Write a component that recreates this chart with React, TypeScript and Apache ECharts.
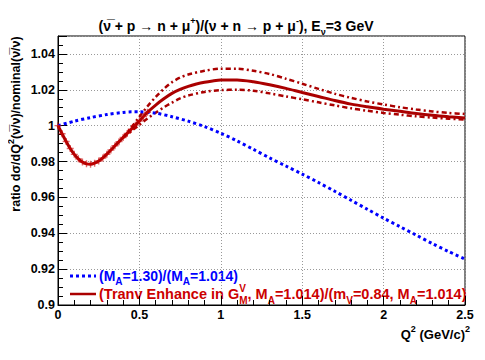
import React, { useEffect, useRef } from "react";
import * as echarts from "echarts";

// Q^2 values (GeV/c)^2 and ratios
const blueQ = [0, 0.1, 0.2, 0.3, 0.4, 0.45, 0.5, 0.6, 0.7, 0.8, 0.9, 1.0, 1.1, 1.2, 1.3, 1.4, 1.5, 1.6, 1.7, 1.8, 1.9, 2.0, 2.1, 2.2, 2.3, 2.4, 2.5];
const blueV = [1.0, 1.0025, 1.0045, 1.0062, 1.0074, 1.0077, 1.0077, 1.007, 1.005, 1.0025, 0.9995, 0.9958, 0.9915, 0.9868, 0.982, 0.9775, 0.973, 0.9683, 0.9634, 0.9584, 0.9534, 0.9484, 0.9437, 0.939, 0.9342, 0.9298, 0.9256];

const redQ = [0, 0.025, 0.05, 0.075, 0.1, 0.125, 0.15, 0.175, 0.2, 0.225, 0.25, 0.275, 0.3, 0.325, 0.35, 0.375, 0.4, 0.425, 0.45, 0.475, 0.5, 0.525, 0.55, 0.6, 0.65, 0.7, 0.75, 0.8, 0.85, 0.9, 0.95, 1.0, 1.1, 1.2, 1.3, 1.4, 1.5, 1.6, 1.7, 1.8, 1.9, 2.0, 2.1, 2.2, 2.3, 2.4, 2.5];
const redV = [1.0, 0.9955, 0.9912, 0.9873, 0.984, 0.9815, 0.9797, 0.9787, 0.9785, 0.9791, 0.9803, 0.982, 0.9841, 0.9864, 0.9888, 0.9911, 0.9934, 0.9957, 0.998, 1.0003, 1.0026, 1.0051, 1.0075, 1.0115, 1.015, 1.018, 1.0202, 1.0219, 1.0232, 1.0242, 1.0249, 1.0254, 1.0255, 1.0245, 1.0228, 1.0208, 1.0185, 1.0163, 1.014, 1.012, 1.0105, 1.0092, 1.008, 1.0068, 1.0058, 1.005, 1.0043];
const crossMaxQ = 0.55;

const bandQ = [0.4, 0.45, 0.5, 0.55, 0.6, 0.65, 0.7, 0.75, 0.8, 0.9, 1.0, 1.1, 1.2, 1.3, 1.4, 1.5, 1.6, 1.7, 1.8, 1.9, 2.0, 2.1, 2.2, 2.3, 2.4, 2.5];
const upperV = [0.9935, 0.999, 1.005, 1.0108, 1.016, 1.0205, 1.0242, 1.0268, 1.0285, 1.0306, 1.0318, 1.0318, 1.0306, 1.0288, 1.0262, 1.0234, 1.0205, 1.0178, 1.0155, 1.0135, 1.0118, 1.0103, 1.009, 1.0079, 1.0071, 1.0065];
const lowerV = [0.9933, 0.997, 1.0005, 1.004, 1.0072, 1.0102, 1.0128, 1.0152, 1.0168, 1.0188, 1.0198, 1.02, 1.0195, 1.018, 1.0163, 1.0147, 1.013, 1.0113, 1.0097, 1.0083, 1.0071, 1.0061, 1.0052, 1.0045, 1.0039, 1.0034];

const xTicks = { min: 0, max: 2.5, interval: 0.5 };
const yTicks = { min: 0.9, max: 1.05, interval: 0.02 };

const FONT = "'Liberation Sans', Arial, Helvetica, sans-serif";
const BLUE = "#0000ff";
const RED = "#aa0000";
const RED_TXT = "#cc0000";

const zip = (q: number[], v: number[]) => q.map((x, i) => [x, v[i]]);

export default function App() {
  const ref = useRef<HTMLDivElement>(null);
  useEffect(() => {
    if (!ref.current) return;
    const chart = echarts.init(ref.current, null, { renderer: "svg" });
    const supS = { fontSize: 9, fontWeight: "bold", fontFamily: FONT, verticalAlign: "top", lineHeight: 10 };
    const subS = { fontSize: 9, fontWeight: "bold", fontFamily: FONT, verticalAlign: "bottom", lineHeight: 10 };
    const option: any = {
      animation: false,
      backgroundColor: "#ffffff",
      grid: { left: 58, right: 20, top: 36, bottom: 55, show: true, borderColor: "#000", borderWidth: 1, containLabel: false },
      xAxis: {
        type: "value",
        min: xTicks.min,
        max: xTicks.max,
        interval: xTicks.interval,
        axisLine: { show: true, onZero: false, lineStyle: { color: "#000", width: 1 } },
        axisTick: { show: true, inside: true, length: 9, lineStyle: { color: "#000" } },
        minorTick: { show: true, splitNumber: 5, length: 5, lineStyle: { color: "#000" } },
        axisLabel: { color: "#000", fontFamily: FONT, fontWeight: "bold", fontSize: 12.5, margin: 3, formatter: (v: number) => String(Math.round(v * 10) / 10) },
        splitLine: { show: true, lineStyle: { color: "#999", type: [1, 2], width: 1 } },
      },
      yAxis: {
        type: "value",
        min: yTicks.min,
        max: yTicks.max,
        interval: yTicks.interval,
        axisLine: { show: true, lineStyle: { color: "#000", width: 1 } },
        axisTick: { show: true, inside: true, length: 9, lineStyle: { color: "#000" } },
        minorTick: { show: true, splitNumber: 4, length: 5, lineStyle: { color: "#000" } },
        axisLabel: {
          color: "#000", fontFamily: FONT, fontWeight: "bold", fontSize: 12.5, margin: 3, showMaxLabel: false,
          formatter: (v: number) => (v > 1.045 ? "" : String(Math.round(v * 100) / 100)),
        },
        splitLine: { show: true, lineStyle: { color: "#999", type: [1, 2], width: 1 } },
      },
      series: [
        {
          type: "line", data: zip(blueQ, blueV), smooth: 0.3, symbol: "none",
          lineStyle: { color: BLUE, width: 3, type: [3, 3], cap: "butt" }, z: 3,
        },
        {
          type: "line", data: zip(bandQ, upperV), smooth: 0.3, symbol: "none",
          lineStyle: { color: RED, width: 2.5, type: [5, 3, 2, 3] }, z: 2,
        },
        {
          type: "line", data: zip(bandQ, lowerV), smooth: 0.3, symbol: "none",
          lineStyle: { color: RED, width: 2.5, type: [5, 3, 2, 3] }, z: 2,
        },
        {
          type: "line", data: zip(redQ, redV), smooth: 0.3, symbol: "none",
          lineStyle: { color: RED, width: 3 }, z: 4,
        },
        {
          type: "scatter", data: zip(redQ, redV).filter((p) => p[0] <= crossMaxQ),
          symbol: "path://M2,0H3V2H5V3H3V5H2V3H0V2H2Z", symbolSize: 7,
          itemStyle: { color: "rgba(204,0,0,0.75)" }, z: 5,
        },
      ],
      graphic: [
        {
          type: "text", x: 236, y: 26,
          style: {
            text: "(ν\u0305 + p → n + μ{sup|+})/(ν + n → p + μ{sup|-}), E{sub|ν}=3 GeV",
            fontFamily: FONT, fontWeight: "bold", fontSize: 14, lineHeight: 20, fill: "#000",
            align: "center", verticalAlign: "middle",
            rich: { sup: supS, sub: subS },
          },
        },
        {
          type: "text", x: 16, y: 124, rotation: Math.PI / 2,
          style: {
            text: "ratio dσ/dQ{sup|2}(ν\u0305/ν)/nominal(ν\u0305/ν)",
            fontFamily: FONT, fontWeight: "bold", fontSize: 12.5, lineHeight: 20, fill: "#000",
            align: "center", verticalAlign: "middle",
            rich: { sup: supS },
          },
        },
        {
          type: "text", x: 470, y: 334,
          style: {
            text: "Q{sup|2} (GeV/c){sup|2}",
            fontFamily: FONT, fontWeight: "bold", fontSize: 13, lineHeight: 20, fill: "#000",
            align: "right", verticalAlign: "middle",
            rich: { sup: supS },
          },
        },
        {
          type: "line", shape: { x1: 70, y1: 276, x2: 96, y2: 276 },
          style: { stroke: BLUE, lineWidth: 3, lineDash: [3, 3] },
        },
        {
          type: "text", x: 99, y: 276,
          style: {
            text: "(M{sub|A}=1.30)/(M{sub|A}=1.014)",
            fontFamily: FONT, fontWeight: "bold", fontSize: 14, lineHeight: 20, fill: BLUE,
            align: "left", verticalAlign: "middle",
            rich: { sub: { ...subS, fontSize: 10, fill: BLUE } },
          },
        },
        {
          type: "line", shape: { x1: 70, y1: 294, x2: 96, y2: 294 },
          style: { stroke: RED, lineWidth: 2.5 },
        },
        {
          type: "text", x: 99, y: 294,
          style: {
            text: "(Tranv Enhance in G{vs|V}{sub|M}, M{sub|A}=1.014)/(m{sub|V}=0.84, M{sub|A}=1.014)",
            fontFamily: FONT, fontWeight: "bold", fontSize: 14.5, lineHeight: 22, fill: RED_TXT,
            align: "left", verticalAlign: "middle",
            rich: {
              sub: { ...subS, fontSize: 10, fill: RED_TXT },
              vs: { ...supS, fontSize: 10, fill: RED_TXT, width: 0, align: "left" },
            },
          },
        },
      ],
    };
    chart.setOption(option);
    return () => chart.dispose();
  }, []);
  return <div ref={ref} style={{ width: 485, height: 360, marginLeft: -8, marginTop: -8 }} />;
}
